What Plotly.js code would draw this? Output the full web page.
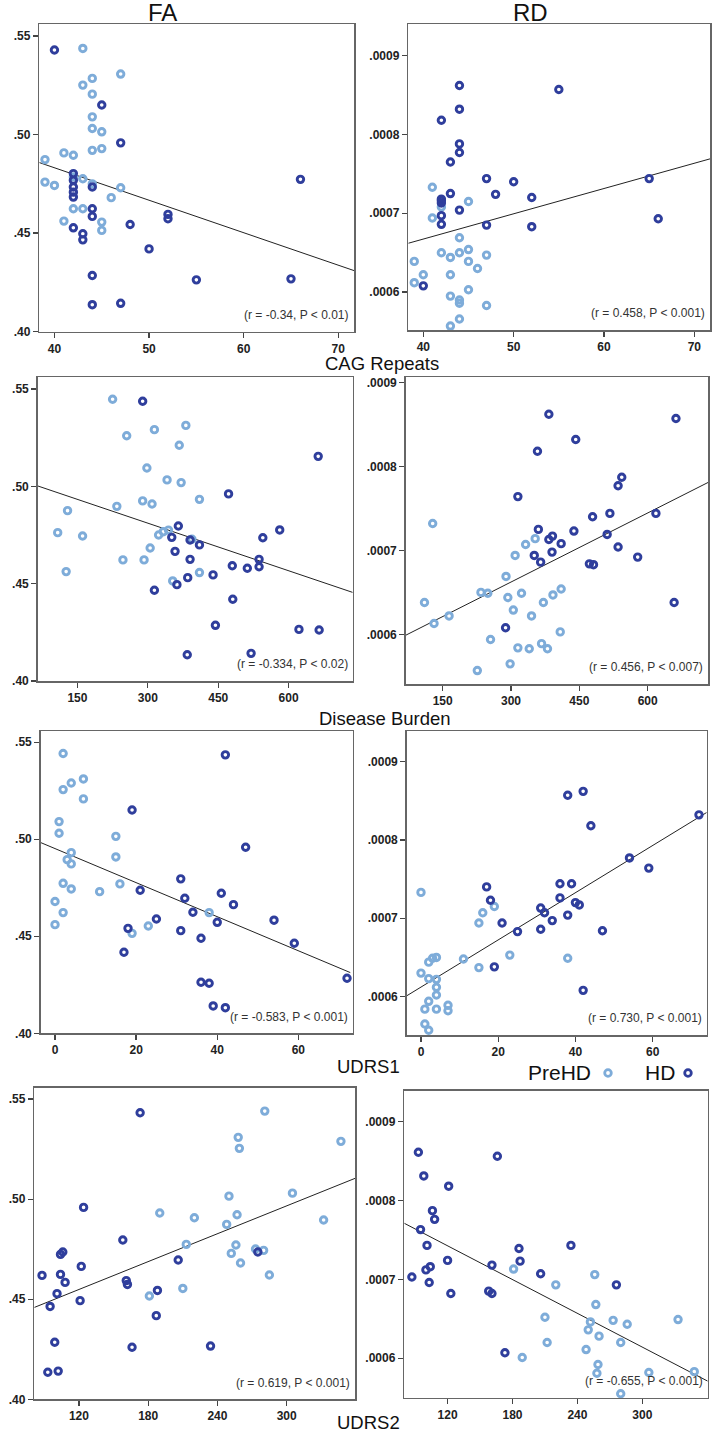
<!DOCTYPE html>
<html><head><meta charset="utf-8">
<script src="https://cdn.plot.ly/plotly-3.0.1.min.js"></script>
<style>html,body{margin:0;padding:0;background:#fff;}#chart{width:721px;height:1433px;}</style>
</head><body><div id="chart"></div>
<script>
// ---------- DATA ----------
// Row 1: CAG Repeats
var cagPreFA_x = [43,47,44,43,44,44,44,45,44,45,41,42,39,39,40,42,43,44,47,46,42,43,41,45,45];
var cagPreFA_y = [.5437,.5307,.5285,.5251,.5205,.5090,.5031,.5014,.4920,.4929,.4907,.4895,.4873,.4759,.4742,.4785,.4776,.4750,.4730,.4680,.4624,.4624,.4561,.4556,.4514];
var cagHDFA_x = [40,45,47,66,42,42,42,42,42,44,44,44,42,43,43,48,52,52,50,44,55,65,44,47];
var cagHDFA_y = [.5429,.5150,.4958,.4773,.4802,.4768,.4734,.4708,.4683,.4734,.4624,.4585,.4527,.4497,.4466,.4544,.4595,.4573,.4420,.4285,.4263,.4268,.4137,.4144];
var cagPreRD_x = [41,45,42,41,44,45,42,43,44,47,45,39,46,40,43,39,45,43,44,44,47,44,43];
var cagPreRD_y = [.000733,.000715,.000708,.000694,.000669,.000654,.000650,.000644,.000650,.000647,.000639,.000639,.000630,.000622,.000622,.000612,.000603,.000595,.000590,.000586,.000583,.000566,.000557];
var cagHDRD_x = [44,55,44,42,44,44,43,47,50,65,48,43,52,42,42,42,44,42,42,47,52,66,40];
var cagHDRD_y = [.000862,.000857,.000832,.000818,.000788,.000777,.000765,.000744,.000740,.000744,.000724,.000725,.000720,.000718,.000716,.000713,.000704,.000697,.000686,.000685,.000683,.000693,.000608];

// Row 2: Disease Burden
var burPreFA_x = [225,255,314,381,367,298,341,371,410,289,309,234,129,108,161,323,333,344,305,394,247,292,126,410,353];
var burPreFA_y = [.5447,.5260,.5291,.5313,.5211,.5094,.5033,.5019,.4933,.4925,.4909,.4897,.4875,.4762,.4745,.4750,.4767,.4775,.4683,.4728,.4622,.4622,.4562,.4557,.4514];
var burHDFA_x = [289,663,472,365,581,351,545,390,410,358,390,537,480,512,537,439,385,362,314,481,444,622,665,520,384];
var burHDFA_y = [.5437,.5154,.4961,.4796,.4776,.4738,.4736,.4724,.4699,.4666,.4625,.4625,.4592,.4579,.4587,.4545,.4531,.4495,.4466,.4420,.4286,.4265,.4262,.4142,.4135];
var burPreRD_x = [128,353,332,309,289,234,249,323,293,392,410,110,371,305,164,345,131,408,255,367,315,340,380,298,226];
var burPreRD_y = [.000732,.000714,.000707,.000694,.000669,.000650,.000649,.000649,.000644,.000647,.000654,.000638,.000638,.000629,.000622,.000622,.000613,.000603,.000594,.000589,.000584,.000583,.000583,.000565,.000557];
var burHDRD_x = [383,662,442,358,543,535,315,517,618,479,360,438,391,383,511,410,535,351,390,578,365,472,481,658,288];
var burHDRD_y = [.000862,.000857,.000832,.000818,.000787,.000777,.000764,.000744,.000744,.000740,.000725,.000723,.000717,.000713,.000719,.000708,.000704,.000694,.000698,.000692,.000686,.000684,.000683,.000638,.000608];

// Row 3: UDRS1
var u1PreFA_x = [2,7,4,2,7,1,1,15,4,15,3,4,2,16,4,11,0,2,38,0,23,19];
var u1PreFA_y = [.5442,.5311,.5290,.5256,.5208,.5091,.5031,.5015,.4931,.4909,.4895,.4873,.4773,.4770,.4744,.4730,.4679,.4622,.4622,.4560,.4553,.4515];
var u1HDFA_x = [42,19,47,31,21,41,32,44,34,40,54,25,18,31,36,59,17,72,36,38,39,42];
var u1HDFA_y = [.5435,.5151,.4959,.4796,.4737,.4722,.4696,.4663,.4624,.4572,.4583,.4589,.4541,.4529,.4490,.4464,.4418,.4284,.4263,.4258,.4141,.4132];
var u1PreRD_x = [0,16,19,15,23,38,11,3,4,2,15,0,2,4,4,4,2,7,7,1,4,1,2];
var u1PreRD_y = [.000733,.000707,.000715,.000694,.000653,.000649,.000648,.000649,.000650,.000644,.000637,.000630,.000623,.000622,.000612,.000602,.000594,.000589,.000582,.000584,.000584,.000565,.000557];
var u1HDRD_x = [42,38,44,72,54,59,17,36,39,18,36,31,32,40,41,38,34,21,31,25,47,19,42];
var u1HDRD_y = [.000862,.000857,.000818,.000832,.000777,.000764,.000740,.000744,.000744,.000723,.000726,.000713,.000707,.000720,.000717,.000704,.000697,.000694,.000686,.000683,.000684,.000638,.000608];

// Row 4: UDRS2
var u2PreFA_x = [281,258,347,259,305,250,190,257,220,248,332,213,256,252,273,280,260,285,210,181];
var u2PreFA_y = [.5440,.5309,.5289,.5254,.5030,.5015,.4931,.4922,.4907,.4874,.4896,.4774,.4771,.4729,.4751,.4744,.4681,.4621,.4554,.4516];
var u2HDFA_x = [173,124,158,106,104,122,206,275,88,104,108,161,162,101,188,121,95,187,99,166,234,93,102];
var u2HDFA_y = [.5432,.4959,.4796,.4736,.4724,.4664,.4696,.4736,.4619,.4624,.4584,.4593,.4574,.4528,.4544,.4493,.4464,.4418,.4285,.4260,.4266,.4135,.4141];
var u2PreRD_x = [181,256,220,257,210,252,273,286,333,250,260,212,280,248,189,259,258,306,348,280];
var u2PreRD_y = [.000713,.000706,.000693,.000668,.000652,.000646,.000648,.000643,.000649,.000636,.000628,.000620,.000620,.000611,.000601,.000592,.000581,.000582,.000583,.000555];
var u2HDRD_x = [93,166,98,121,106,108,95,101,234,186,120,187,161,104,100,206,87,103,276,123,158,161,173];
var u2HDRD_y = [.000861,.000856,.000831,.000818,.000787,.000776,.000763,.000743,.000743,.000739,.000724,.000723,.000718,.000716,.000712,.000707,.000703,.000696,.000693,.000682,.000685,.000682,.000607];

// Fit lines (end points)
var fitCagFA_x = [38.4, 71.66], fitCagFA_y = [.4858, .4310];
var fitCagRD_x = [38.34, 71.73], fitCagRD_y = [.000662, .000769];
var fitBurFA_x = [65.4, 736.5], fitBurFA_y = [.5002, .4455];
var fitBurRD_x = [68.8, 733], fitBurRD_y = [.000599, .000781];
var fitU1FA_x = [-3.53, 72.8], fitU1FA_y = [.4983, .4313];
var fitU1RD_x = [-3.7, 74.0], fitU1RD_y = [.000601, .000835];
var fitU2FA_x = [81.3, 359.2], fitU2FA_y = [.4459, .5104];
var fitU2RD_x = [80.0, 360.4], fitU2RD_y = [.000771, .000571];

// Texts
var colTitles = ["FA", "RD"];
var rowTitles = ["CAG Repeats", "Disease Burden", "UDRS1", "UDRS2"];
var statTexts = ["(r = -0.34, P < 0.01)", "(r = 0.458, P < 0.001)",
                 "(r = -0.334, P < 0.02)", "(r = 0.456, P < 0.007)",
                 "(r = -0.583, P < 0.001)", "(r = 0.730, P < 0.001)",
                 "(r = 0.619, P < 0.001)", "(r = -0.655, P < 0.001)"];
var groupNames = ["PreHD", "HD"];
var faTickVals = [.40, .45, .50, .55], faTickText = [".40", ".45", ".50", ".55"];
var rdTickVals = [.0006, .0007, .0008, .0009], rdTickText = [".0006", ".0007", ".0008", ".0009"];
var cagTicks = [40, 50, 60, 70];
var burTicks = [150, 300, 450, 600];
var u1Ticks = [0, 20, 40, 60];
var u2Ticks = [120, 180, 240, 300];

// ---------- LAYOUT ----------
var W = 721, H = 1433;
var LIGHT = "#7eacd9", DARK = "#2f3e9c";
var FONT = "Liberation Sans, Arial, sans-serif";
function px(x) { return x / W; }
function py(y) { return 1 - y / H; }
function bold(s) { return "<b>" + s + "</b>"; }

var panels = [
  {pre:[cagPreFA_x,cagPreFA_y], hd:[cagHDFA_x,cagHDFA_y], fit:[fitCagFA_x,fitCagFA_y], box:[39.3,354,24,331.7], xr:[38.4,71.66], yr:[.40,.5561], xt:cagTicks, fa:true},
  {pre:[cagPreRD_x,cagPreRD_y], hd:[cagHDRD_x,cagHDRD_y], fit:[fitCagRD_x,fitCagRD_y], box:[408.3,710,24,330], xr:[38.34,71.73], yr:[.000552,.000940], xt:cagTicks, fa:false},
  {pre:[burPreFA_x,burPreFA_y], hd:[burHDFA_x,burHDFA_y], fit:[fitBurFA_x,fitBurFA_y], box:[37.7,352.7,377.3,681], xr:[65.4,736.5], yr:[.40,.556], xt:burTicks, fa:true},
  {pre:[burPreRD_x,burPreRD_y], hd:[burHDRD_x,burHDRD_y], fit:[fitBurRD_x,fitBurRD_y], box:[405.7,708.3,377.3,684], xr:[68.8,733], yr:[.000541,.000906], xt:burTicks, fa:false},
  {pre:[u1PreFA_x,u1PreFA_y], hd:[u1HDFA_x,u1HDFA_y], fit:[fitU1FA_x,fitU1FA_y], box:[40.7,352.7,731,1033.3], xr:[-3.53,73.4], yr:[.40,.5558], xt:u1Ticks, fa:true},
  {pre:[u1PreRD_x,u1PreRD_y], hd:[u1HDRD_x,u1HDRD_y], fit:[fitU1RD_x,fitU1RD_y], box:[406.7,706.7,731,1035], xr:[-3.7,74.0], yr:[.000551,.000939], xt:u1Ticks, fa:false},
  {pre:[u2PreFA_x,u2PreFA_y], hd:[u2HDFA_x,u2HDFA_y], fit:[fitU2FA_x,fitU2FA_y], box:[34.3,355,1087.7,1399.3], xr:[81.3,359.2], yr:[.40,.5557], xt:u2Ticks, fa:true},
  {pre:[u2PreRD_x,u2PreRD_y], hd:[u2HDRD_x,u2HDRD_y], fit:[fitU2RD_x,fitU2RD_y], box:[404.3,707.7,1090.7,1397.7], xr:[80.0,360.4], yr:[.00055,.000939], xt:u2Ticks, fa:false}
];

var traces = [];
var layout = {
  width: W, height: H, margin: {l:0, r:0, t:0, b:0},
  paper_bgcolor: "#fff", plot_bgcolor: "#fff",
  showlegend: false, font: {family: FONT, color: "#222"},
  annotations: [], shapes: []
};

panels.forEach(function (p, i) {
  var n = i + 1, xa = "x" + n, ya = "y" + n;
  var xk = "xaxis" + (n === 1 ? "" : n), yk = "yaxis" + (n === 1 ? "" : n);
  var mk = function (c) { return {symbol: "circle-open", size: 6.5, color: c, line: {width: 2.9, color: c}}; };
  traces.push({x: p.fit[0], y: p.fit[1], xaxis: xa, yaxis: ya, mode: "lines", line: {color: "#222", width: 1}, hoverinfo: "skip"});
  traces.push({x: p.pre[0], y: p.pre[1], xaxis: xa, yaxis: ya, mode: "markers", name: groupNames[0], marker: mk(LIGHT), cliponaxis: false});
  traces.push({x: p.hd[0], y: p.hd[1], xaxis: xa, yaxis: ya, mode: "markers", name: groupNames[1], marker: mk(DARK), cliponaxis: false});
  var b = p.box;
  var tf = {size: 12, color: "#222", family: FONT};
  layout[xk] = {domain: [px(b[0]), px(b[1])], range: p.xr, anchor: ya,
    showline: true, mirror: true, linecolor: "#666", linewidth: 1.5,
    showgrid: false, zeroline: false, ticks: "outside", ticklen: 5, tickwidth: 1.3, tickcolor: "#444",
    tickvals: p.xt, ticktext: p.xt.map(function (v) { return bold(String(v)); }), tickfont: tf};
  layout[yk] = {domain: [py(b[3]), py(b[2])], range: p.yr, anchor: xa,
    showline: true, mirror: true, linecolor: "#666", linewidth: 1.5,
    showgrid: false, zeroline: false, ticks: "outside", ticklen: 5, tickwidth: 1.3, tickcolor: "#444",
    tickvals: p.fa ? faTickVals : rdTickVals, ticktext: (p.fa ? faTickText : rdTickText).map(bold),
    tickfont: tf, ticklabelstandoff: 0};
  layout.annotations.push({xref: xa + " domain", yref: ya + " domain", x: 0.99, y: 0.025,
    xanchor: "right", yanchor: "bottom", showarrow: false, text: statTexts[i],
    font: {size: 12, color: "#333", family: FONT}});
});

// column titles
[[162, 13], [530, 13]].forEach(function (pos, j) {
  layout.annotations.push({xref: "paper", yref: "paper", x: px(pos[0]), y: py(pos[1]), xanchor: "center", yanchor: "middle",
    showarrow: false, text: colTitles[j], font: {size: 24, color: "#111", family: FONT}});
});
// row (x-axis) titles
[[382, 363], [385, 718], [368, 1066], [368, 1422]].forEach(function (pos, j) {
  layout.annotations.push({xref: "paper", yref: "paper", x: px(pos[0]), y: py(pos[1]), xanchor: "center", yanchor: "middle",
    showarrow: false, text: rowTitles[j], font: {size: 18.5, color: "#111", family: FONT}});
});
// legend
layout.annotations.push({xref: "paper", yref: "paper", x: px(526), y: py(1072), xanchor: "left", yanchor: "middle",
  showarrow: false, text: groupNames[0], font: {size: 21, color: "#111", family: FONT}});
layout.annotations.push({xref: "paper", yref: "paper", x: px(643), y: py(1072), xanchor: "left", yanchor: "middle",
  showarrow: false, text: groupNames[1], font: {size: 21, color: "#111", family: FONT}});
[[608, LIGHT], [688, DARK]].forEach(function (m) {
  layout.shapes.push({type: "circle", xref: "paper", yref: "paper",
    x0: px(m[0] - 3.3), x1: px(m[0] + 3.3), y0: py(1073 + 3.3), y1: py(1073 - 3.3),
    line: {color: m[1], width: 2.8}, fillcolor: "rgba(0,0,0,0)"});
});

Plotly.newPlot("chart", traces, layout, {displayModeBar: false, staticPlot: true});
</script>
</body></html>
